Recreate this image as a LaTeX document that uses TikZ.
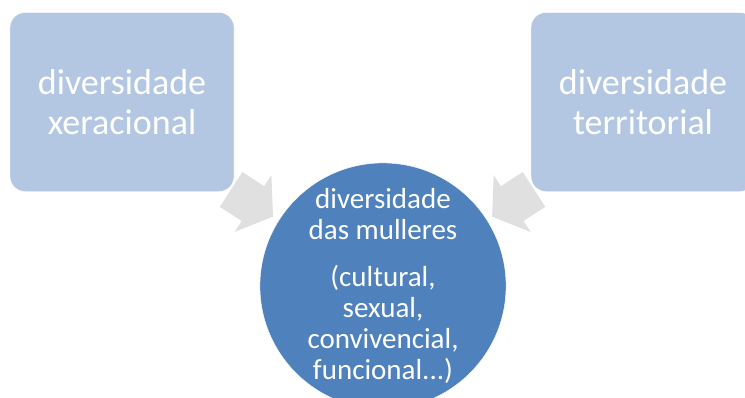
\documentclass[tikz,border=0pt]{standalone}
\usepackage{fontspec}
\setmainfont{Carlito}
\usepackage{tikz}
\usetikzlibrary{positioning, calc}
\definecolor{boxblue}{RGB}{180, 199, 226}
\definecolor{coreblue}{RGB}{79, 129, 189}
\definecolor{arrowgray}{RGB}{224, 224, 224}

\begin{document}
\begin{tikzpicture}[
    x=1pt, y=-1pt,
    topic/.style={fill=boxblue, draw=white, rounded corners=15pt, minimum width=224pt, minimum height=179pt, text=white, align=center, font=\fontsize{36}{40}\selectfont},
    core/.style={circle, fill=coreblue, draw=white, minimum size=237pt, inner sep=0pt, text=white, align=center, font=\fontsize{29}{31}\selectfont},
    blockarrow/.style={fill=arrowgray}
]
    \clip (0,0) rectangle (745,397);

    % Nodes - top row
    \node[topic] (xeracional) at (122,102) {diversidade\\xeracional};
    \node[topic] (territorial) at (643,102) {diversidade\\territorial};

    % Node - centre
    \node[core] (mulleres) at (383,286) {diversidade\\das mulleres\\[16pt](cultural,\\sexual,\\convivencial,\\funcional.{}.{}.)};

    % Arrows
    \coordinate (leftarrow) at ($(xeracional.south east)!0.12!(mulleres.center)$);
    \coordinate (rightarrow) at ($(territorial.south west)!0.12!(mulleres.center)$);
    \fill[blockarrow, shift={(leftarrow)}, rotate=-33] (-25,-20.75) -- (1,-20.75) -- (1,-34) -- (25,0) -- (1,34) -- (1,20.75) -- (-25,20.75) -- cycle;
    \fill[blockarrow, shift={(rightarrow)}, rotate=-147] (-25,-20.75) -- (1,-20.75) -- (1,-34) -- (25,0) -- (1,34) -- (1,20.75) -- (-25,20.75) -- cycle;
\end{tikzpicture}
\end{document}
